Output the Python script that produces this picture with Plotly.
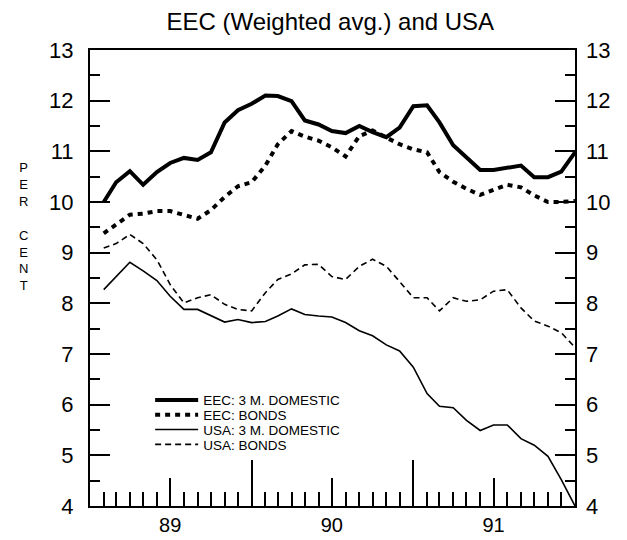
import pandas as pd
import plotly.graph_objects as go

# ---- data (monthly, Feb 1989 .. Jan 1992) ----
months = pd.date_range("1989-02-01", periods=36, freq="MS")

eec_3m = [10.00, 10.39, 10.61, 10.34, 10.59, 10.77, 10.87, 10.83, 10.98, 11.57,
          11.81, 11.94, 12.10, 12.09, 11.99, 11.61, 11.53, 11.40, 11.36, 11.50,
          11.38, 11.28, 11.47, 11.89, 11.91, 11.57, 11.12, 10.88, 10.63, 10.63,
          10.68, 10.72, 10.49, 10.49, 10.60, 10.98]

eec_bonds = [9.38, 9.56, 9.75, 9.77, 9.82, 9.82, 9.75, 9.67, 9.84, 10.10,
             10.31, 10.39, 10.72, 11.14, 11.40, 11.29, 11.21, 11.08, 10.90, 11.30,
             11.41, 11.27, 11.14, 11.04, 10.98, 10.59, 10.40, 10.26, 10.14, 10.24,
             10.34, 10.29, 10.13, 10.00, 10.00, 10.02]

usa_3m = [8.27, 8.53, 8.81, 8.64, 8.45, 8.14, 7.88, 7.88, 7.75, 7.63,
          7.68, 7.62, 7.64, 7.75, 7.89, 7.78, 7.75, 7.73, 7.62, 7.46,
          7.36, 7.18, 7.06, 6.74, 6.22, 5.97, 5.94, 5.69, 5.49, 5.60,
          5.60, 5.33, 5.20, 4.98, 4.52, 4.00]

usa_bonds = [9.09, 9.18, 9.36, 9.18, 8.86, 8.37, 8.01, 8.11, 8.17, 7.98,
             7.88, 7.85, 8.21, 8.47, 8.58, 8.76, 8.77, 8.53, 8.47, 8.73,
             8.87, 8.73, 8.43, 8.11, 8.11, 7.85, 8.11, 8.04, 8.07, 8.24,
             8.27, 7.91, 7.65, 7.55, 7.42, 7.13]

series_names = ["EEC: 3 M. DOMESTIC", "EEC: BONDS", "USA: 3 M. DOMESTIC", "USA: BONDS"]
year_labels = ["89", "90", "91"]
quarter_ticks = ["1989-04-01", "1989-07-01", "1989-10-01",
                 "1990-04-01", "1990-07-01", "1990-10-01",
                 "1991-04-01", "1991-07-01", "1991-10-01"]
quarter_text = ["", year_labels[0], "", "", year_labels[1], "", "", year_labels[2], ""]
year_ticks = ["1990-01-01", "1991-01-01"]
month_ticks = list(pd.date_range("1989-02-01", "1991-12-01", freq="MS").strftime("%Y-%m-%d"))
x_range = ["1989-01-01", "1992-01-01"]
y_ticks = list(range(4, 14))

FONT = "Liberation Sans, Arial, Helvetica, sans-serif"

styles = [
    dict(width=4, dash="solid"),
    dict(width=4, dash="5px,5px"),
    dict(width=1.6, dash="solid"),
    dict(width=1.6, dash="6px,4px"),
]
all_series = [eec_3m, eec_bonds, usa_3m, usa_bonds]
legend_ids = ["legend", "legend2", "legend3", "legend4"]

fig = go.Figure()
for name, vals, st, lg in zip(series_names, all_series, styles, legend_ids):
    fig.add_trace(go.Scatter(
        x=months, y=vals, mode="lines", name=name,
        line=dict(color="black", width=st["width"], dash=st["dash"]),
        legend=lg, hoverinfo="skip"))

# invisible carriers for the overlay axes (yearly ticks / right axis)
fig.add_trace(go.Scatter(x=months, y=usa_3m, xaxis="x2", mode="lines",
                         line=dict(width=0), opacity=0, showlegend=False,
                         hoverinfo="skip"))
fig.add_trace(go.Scatter(x=months, y=usa_3m, yaxis="y2", mode="lines",
                         line=dict(width=0), opacity=0, showlegend=False,
                         hoverinfo="skip"))

y_tick_font = dict(family=FONT, size=22, color="black")
x_tick_font = dict(family=FONT, size=20, color="black")

B = 20
plot_h = 540 - 42 - B
legend_centers_px = [409.1, 424.6, 440.1, 455.6]
legend_y = [(540 - B - c) / plot_h for c in legend_centers_px]
legend_common = dict(x=0.124, xanchor="left", yanchor="middle",
                     bgcolor="rgba(0,0,0,0)", borderwidth=0,
                     font=dict(family=FONT, size=13.5, color="black"),
                     itemwidth=43, tracegroupgap=0)

y_minor = dict(dtick=0.5, ticks="inside", ticklen=10, tickwidth=2, tickcolor="black")

fig.update_layout(
    width=627, height=540,
    margin=dict(l=82, r=60, t=42, b=B),
    paper_bgcolor="white", plot_bgcolor="white",
    title=dict(text="EEC (Weighted avg.) and USA", x=0.514, xanchor="center",
               y=0.9757, yanchor="middle", yref="container",
               font=dict(family=FONT, size=24, color="black")),
    showlegend=True,
    xaxis=dict(
        type="date", range=x_range,
        tickmode="array", tickvals=quarter_ticks, ticktext=quarter_text,
        ticks="inside", ticklen=28, tickwidth=2, tickcolor="black",
        minor=dict(tickmode="array", tickvals=month_ticks,
                   ticks="inside", ticklen=14, tickwidth=2, tickcolor="black"),
        showline=True, linewidth=2, linecolor="black", mirror=True,
        showgrid=False, zeroline=False, tickfont=x_tick_font,
        ticklabelstandoff=0,
    ),
    xaxis2=dict(
        type="date", range=x_range, overlaying="x", anchor="y", side="bottom",
        tickmode="array", tickvals=year_ticks, ticktext=["", ""],
        ticks="inside", ticklen=46, tickwidth=2, tickcolor="black",
        showticklabels=False, showline=False, showgrid=False, zeroline=False,
    ),
    yaxis=dict(
        range=[4, 13], tickmode="array", tickvals=y_ticks,
        ticks="inside", ticklen=20, tickwidth=2, tickcolor="black",
        minor=y_minor,
        showline=True, linewidth=2, linecolor="black", mirror=True,
        showgrid=False, zeroline=False, tickfont=y_tick_font,
        ticklabelstandoff=10,
    ),
    yaxis2=dict(
        range=[4, 13], overlaying="y", anchor="x", side="right",
        tickmode="array", tickvals=y_ticks,
        ticks="inside", ticklen=20, tickwidth=2, tickcolor="black",
        minor=y_minor,
        showline=False, showgrid=False, zeroline=False, tickfont=y_tick_font,
        ticklabelstandoff=10,
    ),
    legend=dict(y=legend_y[0], **legend_common),
    legend2=dict(y=legend_y[1], **legend_common),
    legend3=dict(y=legend_y[2], **legend_common),
    legend4=dict(y=legend_y[3], **legend_common),
)

# vertical "PER CENT" label, one letter per line
fig.add_annotation(text="<br>".join(list("PER CENT")), xref="paper", yref="paper",
                   x=-0.138, y=(540 - B - 226.7) / plot_h,
                   xanchor="center", yanchor="middle",
                   showarrow=False, align="center",
                   font=dict(family=FONT, size=13, color="black"))

fig.write_html("out.html")
